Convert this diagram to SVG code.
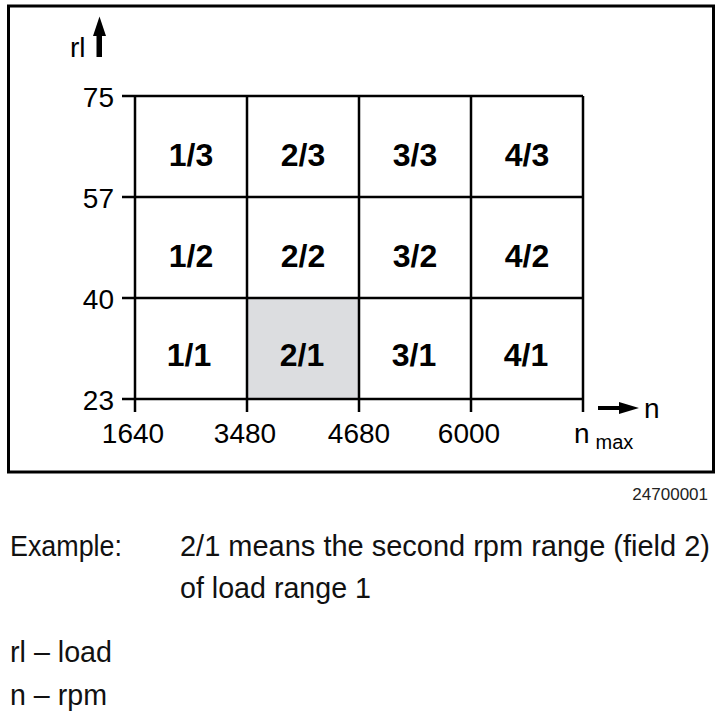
<svg xmlns="http://www.w3.org/2000/svg" width="722" height="718" viewBox="0 0 722 718">
<style>
.ln{stroke:#000;stroke-width:2.5;fill:none}
.cell{font-family:"Liberation Sans",Arial,sans-serif;font-weight:bold;font-size:32px;text-anchor:middle;fill:#000}
.ax{font-family:"Liberation Sans",Arial,sans-serif;font-size:28px;fill:#000}
.txt{font-family:"Liberation Sans",Arial,sans-serif;font-size:30px;fill:#111}
</style>
<rect width="722" height="718" fill="#fff"/>
<rect x="8.5" y="6" width="705" height="466" fill="none" stroke="#000" stroke-width="3"/>
<rect id="shade" x="247" y="298" width="112" height="101" fill="#dcdde0"/>
<g id="grid" class="ln">
<path d="M122 96H583M122 197H583M122 298H583M122 399H583"/>
<path d="M135 96V412M247 96V412M359 96V412M471 96V412M583 96V412"/>
</g>
<g id="cells" class="cell">
<g id="c13"><text x="191" y="166">1/3</text></g>
<g id="c23"><text x="303" y="166">2/3</text></g>
<g id="c33"><text x="415" y="166">3/3</text></g>
<g id="c43"><text x="527" y="166">4/3</text></g>
<g id="c12"><text x="191" y="267">1/2</text></g>
<g id="c22"><text x="303" y="267">2/2</text></g>
<g id="c32"><text x="415" y="267">3/2</text></g>
<g id="c42"><text x="527" y="267">4/2</text></g>
<g id="c11"><text x="189" y="366">1/1</text></g>
<g id="c21"><text x="302" y="366">2/1</text></g>
<g id="c31"><text x="414" y="366">3/1</text></g>
<g id="c41"><text x="526" y="366">4/1</text></g>
</g>
<g id="ylabels" class="ax" text-anchor="end">
<text x="114" y="107">75</text>
<text x="114" y="208">57</text>
<text x="114" y="309">40</text>
<text x="114" y="410">23</text>
</g>
<g id="xlabels" class="ax" text-anchor="middle">
<text x="133" y="443">1640</text>
<text x="245" y="443">3480</text>
<text x="359" y="443">4680</text>
<text x="469" y="443">6000</text>
</g>
<text class="ax" x="574" y="443">n<tspan font-size="20" dx="6" dy="6">max</tspan></text>
<g id="connectors">
<path d="M96.5 57V36H93L99.5 16.5L106 36H102V57Z" fill="#000"/>
<path d="M598 406H619V402L639 408L619 414V410H598Z" fill="#000"/>
</g>
<text class="ax" x="70" y="57">rl</text>
<text class="ax" x="644" y="418">n</text>
<text x="708" y="500" font-family="Liberation Sans,Arial,sans-serif" font-size="17" fill="#222" text-anchor="end">24700001</text>
<g id="caption" class="txt">
<text x="10" y="556" textLength="112" lengthAdjust="spacingAndGlyphs">Example:</text>
<text x="180" y="556" textLength="530" lengthAdjust="spacingAndGlyphs">2/1 means the second rpm range (field 2)</text>
<text x="180" y="598" textLength="191" lengthAdjust="spacingAndGlyphs">of load range 1</text>
<text x="10" y="662" textLength="102" lengthAdjust="spacingAndGlyphs">rl – load</text>
<text x="10" y="705" textLength="97" lengthAdjust="spacingAndGlyphs">n – rpm</text>
</g>
</svg>
